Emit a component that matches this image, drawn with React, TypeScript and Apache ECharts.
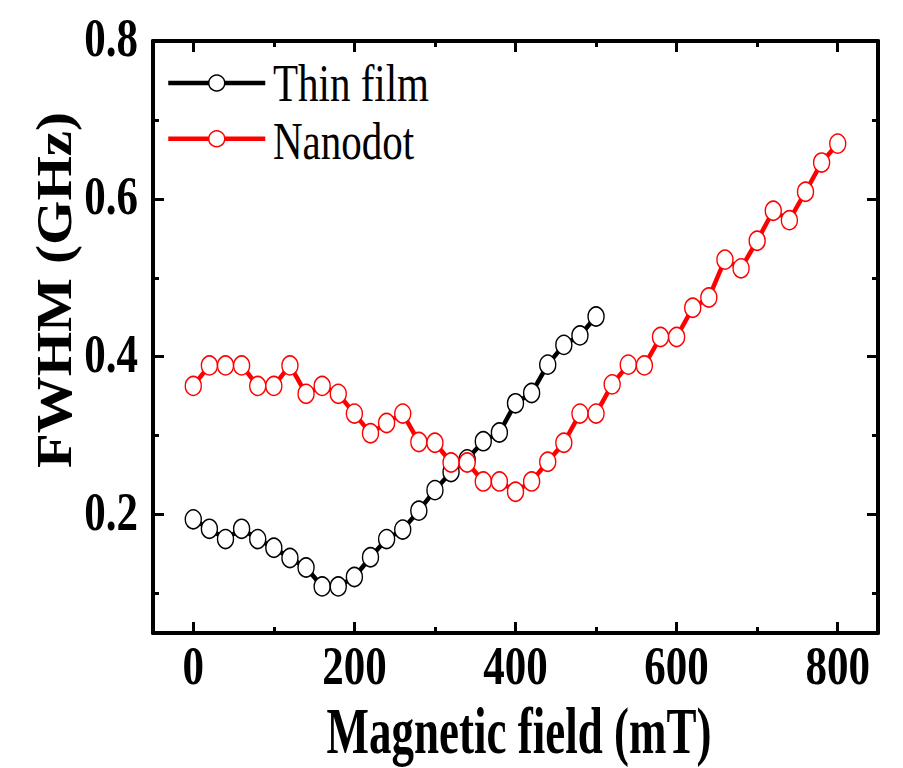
import React, { useEffect, useRef } from "react";
import * as echarts from "echarts";

const thinFilmX = [0, 20, 40, 60, 80, 100, 120, 140, 160, 180, 200, 220, 240, 260, 280, 300, 320, 340, 360, 380, 400, 420, 440, 460, 480, 500];
const thinFilmY = [0.194, 0.182, 0.169, 0.182, 0.169, 0.158, 0.145, 0.133, 0.109, 0.109, 0.121, 0.146, 0.169, 0.181, 0.205, 0.231, 0.254, 0.27, 0.293, 0.304, 0.341, 0.354, 0.39, 0.415, 0.427, 0.451];

const nanodotX = [0, 20, 40, 60, 80, 100, 120, 140, 160, 180, 200, 220, 240, 260, 280, 300, 320, 340, 360, 380, 400, 420, 440, 460, 480, 500, 520, 540, 560, 580, 600, 620, 640, 660, 680, 700, 720, 740, 760, 780, 800];
const nanodotY = [0.363, 0.389, 0.389, 0.389, 0.363, 0.363, 0.389, 0.353, 0.363, 0.353, 0.328, 0.303, 0.316, 0.328, 0.292, 0.291, 0.266, 0.266, 0.242, 0.242, 0.229, 0.242, 0.267, 0.291, 0.328, 0.328, 0.365, 0.39, 0.389, 0.425, 0.425, 0.462, 0.475, 0.523, 0.512, 0.547, 0.585, 0.573, 0.609, 0.646, 0.67];

const xMajorTicks = [0, 200, 400, 600, 800];
const xMinorTicks = [100, 300, 500, 700];
const yMajorTicks = [0.2, 0.4, 0.6, 0.8];
const yMinorTicks = [0.1, 0.3, 0.5, 0.7];
const xTickLabels = ["0", "200", "400", "600", "800"];
const yTickLabels = ["0.2", "0.4", "0.6", "0.8"];

const seriesNames = ["Thin film", "Nanodot"];
const seriesColors = ["#000000", "#ff0000"];
const xTitle = "Magnetic field (mT)";
const yTitle = "FWHM (GHz)";

const FONT = '"Liberation Serif", "Times New Roman", serif';

function axis(kind: "x" | "y", position: string, ticks: number[], len: number, showLine: boolean) {
  const range = kind === "x" ? { min: -50, max: 850 } : { min: 0.05, max: 0.8 };
  return {
    type: "value",
    position,
    ...range,
    axisLine: { show: showLine, onZero: false, lineStyle: { color: "#000", width: 4 } },
    axisTick: { show: true, inside: true, length: len, customValues: ticks, lineStyle: { color: "#000", width: 3 } },
    axisLabel: { show: false },
    splitLine: { show: false },
  };
}

export default function App() {
  const ref = useRef<HTMLDivElement>(null);
  useEffect(() => {
    if (!ref.current) return;
    const chart = echarts.init(ref.current, null, { renderer: "svg" });
    const toPairs = (xs: number[], ys: number[]) => xs.map((x, i) => [x, ys[i]]);
    chart.setOption({
      animation: false,
      backgroundColor: "#fff",
      grid: { left: 153, right: 25, top: 41, bottom: 135 },
      xAxis: [
        axis("x", "bottom", xMajorTicks, 11, true),
        axis("x", "bottom", xMinorTicks, 6, false),
        axis("x", "top", xMajorTicks, 11, true),
        axis("x", "top", xMinorTicks, 6, false),
      ],
      yAxis: [
        axis("y", "left", yMajorTicks, 11, true),
        axis("y", "left", yMinorTicks, 6, false),
        axis("y", "right", yMajorTicks, 11, true),
        axis("y", "right", yMinorTicks, 6, false),
      ],
      legend: {
        orient: "vertical",
        left: 166,
        top: 73,
        padding: 0,
        itemWidth: 97,
        itemHeight: 20,
        itemGap: 37,
        formatter: () => "",
        textStyle: { fontSize: 10 },
        lineStyle: { width: 4.5 },
        itemStyle: { borderWidth: 1.5 },
        data: seriesNames,
      },
      series: [0, 1].map((i) => ({
        name: seriesNames[i],
        type: "line",
        xAxisIndex: 0,
        yAxisIndex: 0,
        data: i === 0 ? toPairs(thinFilmX, thinFilmY) : toPairs(nanodotX, nanodotY),
        symbol: "circle",
        symbolSize: [16, 19],
        showAllSymbol: true,
        z: 2 + i,
        lineStyle: { color: seriesColors[i], width: 4.5 },
        itemStyle: { color: "#fff", borderColor: seriesColors[i], borderWidth: 1.5 },
      })),
    });

    const bottomY = chart.convertToPixel({ yAxisIndex: 0 }, 0.05) as number;
    const leftX = chart.convertToPixel({ xAxisIndex: 0 }, -50) as number;
    const graphics: any[] = [];
    xMajorTicks.forEach((v, i) => {
      graphics.push({
        type: "text",
        x: chart.convertToPixel({ xAxisIndex: 0 }, v) as number,
        y: bottomY + 33,
        scaleY: 1.3,
        style: { text: xTickLabels[i], fontFamily: FONT, fontSize: 43, fontWeight: "bold", fill: "#000", align: "center", verticalAlign: "middle" },
      });
    });
    yMajorTicks.forEach((v, i) => {
      graphics.push({
        type: "text",
        x: leftX - 15,
        y: (chart.convertToPixel({ yAxisIndex: 0 }, v) as number) - 3,
        scaleY: 1.3,
        style: { text: yTickLabels[i], fontFamily: FONT, fontSize: 43, fontWeight: "bold", fill: "#000", align: "right", verticalAlign: "middle" },
      });
    });
    graphics.push({
      type: "text",
      x: 519,
      y: 731,
      scaleY: 1.45,
      style: { text: xTitle, fontFamily: FONT, fontSize: 45, fontWeight: "bold", fill: "#000", align: "center", verticalAlign: "middle" },
    });
    graphics.push({
      type: "text",
      x: 54,
      y: 290,
      rotation: Math.PI / 2,
      scaleX: 1.14,
      style: { text: yTitle, fontFamily: FONT, fontSize: 50, fontWeight: "bold", fill: "#000", align: "center", verticalAlign: "middle" },
    });
    [83, 141].forEach((y, i) => {
      graphics.push({
        type: "text",
        x: 273,
        y,
        scaleY: 1.28,
        style: { text: seriesNames[i], fontFamily: FONT, fontSize: 41, fill: "#000", align: "left", verticalAlign: "middle" },
      });
    });
    chart.setOption({ graphic: graphics });
    return () => chart.dispose();
  }, []);
  return <div ref={ref} style={{ position: "absolute", left: 0, top: 0, width: 903, height: 768 }} />;
}
